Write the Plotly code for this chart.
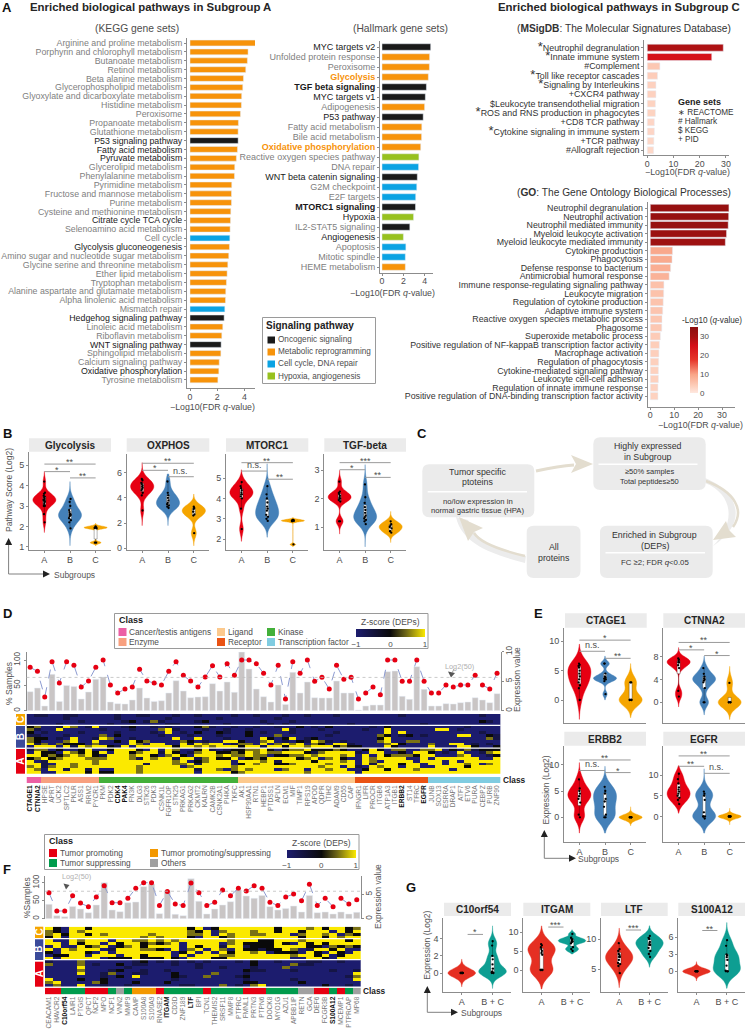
import re
import plotly.graph_objects as go

W, H = 746, 1032
FONT = "Liberation Sans"

# ------------------------------------------------------------------ DATA
KEGG_TERMS = ["Arginine and proline metabolism", "Porphyrin and chlorophyll metabolism", "Butanoate metabolism",
              "Retinol metabolism", "Beta alanine metabolism", "Glycerophospholipid metabolism",
              "Glyoxylate and dicarboxylate metabolism", "Histidine metabolism", "Peroxisome",
              "Propanoate metabolism", "Glutathione metabolism", "P53 signaling pathway", "Fatty acid metabolism",
              "Pyruvate metabolism", "Glycerolipid metabolism", "Phenylalanine metabolism", "Pyrimidine metabolism",
              "Fructose and mannose metabolism", "Purine metabolism", "Cysteine and methionine metabolism",
              "Citrate cycle TCA cycle", "Selenoamino acid metabolism", "Cell cycle", "Glycolysis gluconeogenesis",
              "Amino sugar and nucleotide sugar metabolism", "Glycine serine and threonine metabolism",
              "Ether lipid metabolism", "Tryptophan metabolism", "Alanine aspartate and glutamate metabolism",
              "Alpha linolenic acid metabolism", "Mismatch repair", "Hedgehog signaling pathway",
              "Linoleic acid metabolism", "Riboflavin metabolism", "WNT signaling pathway", "Sphingolipid metabolism",
              "Calcium signaling pathway", "Oxidative phosphorylation", "Tyrosine metabolism"]
KEGG_VALUES = [5.33, 4.27, 4.22, 4.10, 3.93, 3.88, 3.80, 3.78, 3.71, 3.56, 3.54, 3.54, 3.49, 3.41, 3.29, 3.27, 3.07,
               3.05, 3.05, 3.00, 2.98, 2.95, 2.93, 2.90, 2.85, 2.78, 2.73, 2.68, 2.63, 2.61, 2.56, 2.51, 2.41, 2.34,
               2.29, 2.27, 2.15, 2.12, 2.05]
KEGG_KIND = ["M", "M", "M", "M", "M", "M", "M", "M", "M", "M", "M", "O", "M", "M", "M", "M", "M", "M", "M", "M", "M",
             "M", "C", "M", "M", "M", "M", "M", "M", "M", "C", "O", "M", "M", "O", "M", "M", "M", "M"]
KEGG_DARK = ["P53 signaling pathway", "Fatty acid metabolism", "Pyruvate metabolism", "Citrate cycle TCA cycle",
             "Glycolysis gluconeogenesis", "Hedgehog signaling pathway", "WNT signaling pathway",
             "Oxidative phosphorylation"]

HALL_TERMS = ["MYC targets v2", "Unfolded protein response", "Peroxisome", "Glycolysis", "TGF beta signaling",
              "MYC targets v1", "Adipogenesis", "P53 pathway", "Fatty acid metabolism", "Bile acid metabolism",
              "Oxidative phosphorylation", "Reactive oxygen species pathway", "DNA repair",
              "WNT beta catenin signaling", "G2M checkpoint", "E2F targets", "MTORC1 signaling", "Hypoxia",
              "IL2-STAT5 signaling", "Angiogenesis", "Apoptosis", "Mitotic spindle", "HEME metabolism"]
HALL_VALUES = [4.55, 4.45, 4.43, 4.33, 4.15, 4.05, 3.98, 3.85, 3.72, 3.70, 3.62, 3.45, 3.42, 3.30, 3.25, 3.15, 3.13,
               2.95, 2.60, 2.00, 2.23, 2.18, 2.18]
HALL_KIND = ["O", "M", "M", "M", "O", "O", "M", "O", "M", "M", "M", "H", "C", "O", "C", "C", "O", "H", "O", "H", "C",
             "C", "M"]
HALL_BOLD = ["TGF beta signaling", "MTORC1 signaling"]
HALL_ORANGE = ["Glycolysis", "Oxidative phosphorylation"]
HALL_DARK = ["MYC targets v2", "MYC targets v1", "P53 pathway", "WNT beta catenin signaling", "Hypoxia", "Angiogenesis"]
KIND_COLOR = {"O": "#1a1a1a", "M": "#f7930a", "C": "#0ba3e3", "H": "#97c11f"}

STAR = '<span style="font-size:13px">*</span>'
MSIG_TERMS = [STAR + "Neutrophil degranulation", STAR + "Innate immune system", "#Complement",
              STAR + "Toll like receptor cascades", STAR + "Signaling by Interleukins", "+CXCR4 pathway",
              "$Leukocyte transendothelial migration", STAR + "ROS and RNS production in phagocytes",
              "+CD8 TCR pathway", STAR + "Cytokine signaling in immune system", "+TCR pathway",
              "#Allograft rejection"]
MSIG_VALUES = [29.0, 24.6, 4.8, 3.9, 3.3, 3.3, 3.1, 3.1, 2.7, 2.7, 2.5, 2.4]

GO_TERMS = ["Neutrophil degranulation", "Neutrophil activation", "Neutrophil mediated immunity",
            "Myeloid leukocyte activation", "Myeloid leukocyte mediated immunity", "Cytokine production",
            "Phagocytosis", "Defense response to bacterium", "Antimicrobial humoral response",
            "Immune response-regulating signaling pathway", "Leukocyte migration", "Regulation of cytokine production",
            "Adaptive immune system", "Reactive oxygen species metabolic process", "Phagosome",
            "Superoxide metabolic process", "Positive regulation of NF-kappaB transcription factor activity",
            "Macrophage activation", "Regulation of phagocytosis", "Cytokine-mediated signaling pathway",
            "Leukocyte cell-cell adhesion", "Regulation of innate immune response",
            "Positive regulation of DNA-binding transcription factor activity"]
GO_VALUES = [32.9, 32.8, 32.6, 31.9, 31.4, 9.3, 9.1, 8.5, 7.9, 5.7, 5.6, 5.4, 5.2, 4.9, 4.8, 4.2, 3.8, 3.6, 3.5, 3.4,
             3.4, 3.2, 3.2]

# Panel B violins
GLY_A = [2.2, 2.6, 3.0, 3.0, 3.1, 3.2, 3.2, 3.25, 3.3, 3.3, 3.35, 3.4, 3.45, 3.5, 3.6, 3.65, 4.2]
GLY_B = [1.9, 2.2, 2.3, 2.4, 2.5, 2.55, 2.6, 2.6, 2.7, 2.8, 3.0, 3.2, 3.35]
GLY_C = [1.2, 1.2, 1.9, 1.92, 1.95, 1.95, 2.0]
OXP_A = [3.0, 4.2, 4.4, 4.6, 4.7, 4.8, 4.9, 5.0, 5.1, 5.2, 5.4, 5.5]
OXP_B = [3.2, 3.3, 3.4, 3.5, 3.6, 3.8, 4.0, 4.2, 4.4, 5.3]
OXP_C = [1.2, 2.6, 2.7, 2.9, 3.1, 3.2, 3.3]
MTO_A = [2.5, 3.5, 4.0, 4.1, 4.2, 4.2, 4.3, 4.4, 4.5, 4.6, 4.8]
MTO_B = [2.9, 3.0, 3.1, 3.2, 3.4, 3.5, 3.6, 3.8, 4.0, 4.2, 4.6]
MTO_C = [1.75, 2.88, 2.9, 2.9, 2.95, 2.95]
TGF_A = [1.2, 1.2, 1.9, 1.95, 2.0, 2.0, 2.05, 2.1, 2.15, 2.2, 2.25, 2.6]
TGF_B = [1.1, 1.2, 1.25, 1.3, 1.35, 1.4, 1.5, 1.6, 1.7, 1.85, 2.05, 2.5]
TGF_C = [0.8, 0.85, 0.95, 1.0, 1.05, 1.1, 1.2]

# Panel E violins
CTA_A = [0, 2, 2.5, 3, 3.5, 4, 4.5, 5, 5.5, 5.8, 6, 6.2]
CTA_B = [1, 3.2, 3.5, 3.6, 3.7, 3.8, 4, 4.5, 6.2, 6.2]
CTA_C = [0, 0, 0, 0, 3, 3]
CTN_A = [1, 2, 6, 6.5, 7, 7, 7.2, 7.5, 7.7]
CTN_B = [0, 0, 2.5, 3.5, 3.8, 4, 4.2, 4.5, 5, 6]
CTN_C = [0, 0, 0, 0, 3.4]
ERB_A = [0, 0.5, 2.8, 3.5, 4, 4.5, 5, 5.5, 7.2]
ERB_B = [0, 0, 0.5, 2, 3, 3.5, 4.5, 5, 5.8]
ERB_C = [0, 0, 0, 0, 0, 0]
EGF_A = [3, 4, 4.5, 5, 5.5, 6, 6.5, 7, 8, 9, 10.3]
EGF_B = [-0.5, 0, 0, 0, 1, 4, 5, 5.5, 6]
EGF_C = [0, 0, 0, 0, 0, 0]

# Panel G violins
C10_A = [0, 0, 0, 0, 0, 0, 0]
C10_BC = [0, 0, 0, 0.1, 0.2, 0.5, 1, 1.6, 2, 3.2, 3.7]
ITG_A = [0, 0, 0, 0, 0, 4, 4.5, 5, 5.5, 6, 6.5, 6.8]
ITG_BC = [5, 5.5, 6, 7, 7.3, 7.5, 7.7, 8, 8.2, 8.5, 9.5]
LTF_A = [4.3, 5.5, 5.8, 6, 6.5, 7, 7, 7.3, 7.5, 8, 8.3, 9.3]
LTF_BC = [7, 7.5, 8, 8.5, 9, 9, 9.3, 9.5, 10, 10.2, 10.5]
S10_A = [0, 0, 0, 0, 0, 0, 0]
S10_BC = [0, 0, 0, 0.1, 1, 2, 2.5, 2.8, 3, 4.5, 5.5]

# Panel D
D_GENES = ["CTAGE1", "CTNNA2", "HPSE", "APRT", "UCK2", "SPTLC2", "PKLR", "ASS1", "RRM2", "PYCR1",
           "PKM", "PDK2", "CDK4", "PAK4", "FN3K", "DLG3", "STK26", "PDK3", "CSNK1L", "FGFR1OP", "STK25", "PRKAG1",
           "PRKAG2", "CKMT2", "KALRN", "CAMK2B", "CSNK2A1", "PI4KA", "TKFC",
           "AK1", "HSP90AA1", "RTN1", "HEBP1", "PTDSS1", "APLN", "ECM1", "MIF", "TIMP1", "RPS19", "APOD", "QDPR",
           "ITIH2", "ADAM9", "CD55", "CAP",
           "IFNGR1", "LIFR", "PROCR", "ITGB6", "ATP1A3", "ITGB1", "ERBB2", "ST14", "TFRC", "EGFR",
           "JUNB", "SOX13", "ESRRA", "DRAP1", "ATF7", "ETV6", "PURA", "CEBPZ", "PURB", "ZNF90"]
D_BOLD = ["CTAGE1", "CTNNA2", "CDK4", "PAK4", "ERBB2", "EGFR"]
D_CLASS = [0] * 2 + [1] * 8 + [2] * 19 + [3] * 16 + [4] * 10 + [5] * 10
D_CLASS_COLORS = ["#ec5fa4", "#f8a07f", "#43b03a", "#fcc98d", "#ea5314", "#80cce1"]
D_SAMPLES = [85.5, 77.6, 27, 96.7, 54.6, 96.7, 89.5, 46.7, 58.6, 85.5, 100, 50.7, 34.9, 42.8, 46.7, 81.6, 58.6, 54.6,
             50.7, 77.6, 96.7, 69.7, 58.6, 46.7, 66.4, 88.8, 66.4, 92.8, 69.7, 100, 100, 92.8, 73.7, 50.7, 89.5, 23,
             96.7, 73.7, 100, 57.9, 65.8, 42.8, 89.5, 61.8, 65.8, 23, 34.9, 46.7, 31.6, 100, 100, 57.9, 57.9, 100,
             57.9, 34.9, 34.9, 50.7, 46.7, 50.7, 50.7, 69.7, 50.7, 42.8, 73.7]
D_EXPR = [3.22, 3.84, 0.79, 6.16, 1.58, 4.29, 4.12, 1.98, 3.16, 5.31, 5.71, 1.47, 1.19, 1.13, 1.81, 3.84, 2.15, 1.58,
          1.69, 2.99, 5.08, 3.33, 2.2, 2.32, 2.37, 4.58, 3.33, 4.86, 3.11, 9.94, 7.06, 3.67, 2.37, 1.47, 4.35, 1.07,
          6.5, 2.99, 4.86, 2.2, 2.15, 2.15, 5.03, 2.99, 2.99, 0.11, 0.79, 0.96, 0.96, 6.61, 6.72, 2.43, 1.92, 7.46,
          3.62, 0.79, 0.79, 1.19, 1.13, 1.36, 1.47, 2.2, 1.81, 1.36, 2.88]
D_HEAT = ["01100 11000 00100 11000 10010 00010 01000 10010 00100 00000 01000 00000 00100",
          "00000 10000 00100 00001 00000 01000 00001 00000 00000 00000 00000 00000 00000",
          "00000 00100 00012 01310 00012 00000 00100 01000 00000 00000 00000 00000 00210",
          "00001 00000 01000 00001 10000 00100 00010 10000 00001 00000 00001 00000 00000",
          "23001 43014 00012 00101 00023 10010 01001 00201 02000 00102 00000 00000 10000",
          "31004 00000 10001 00034 10001 00100 10000 41000 10000 01004 00000 04401 00000",
          "20100 00100 00100 00104 01020 02100 20100 01000 00100 00004 04000 00000 00100",
          "11000 10000 30200 00010 00100 01000 20003 00000 01000 00032 01201 00004 40021",
          "32201 04001 43001 00000 40040 00100 00420 24012 00000 00024 00000 00000 00031",
          "32000 34004 00204 23000 03201 00442 00340 10214 31010 00034 00330 00000 00000",
          "41303 22203 00004 30440 04143 44013 30403 43403 20441 00003 42000 30044 01010",
          "04440 41434 42140 44444 24434 34442 44144 24434 44232 20004 20000 40004 42002",
          "13302 00240 02444 20404 30024 10122 33420 23342 22320 02420 33003 34021 31222",
          "04220 43242 40442 34414 20134 42232 43433 44421 34444 10440 02044 20104 00134",
          "44232 34342 14443 44203 42044 43433 43302 23343 44434 04042 33324 40003 40012",
          "23423 44433 34443 14344 14413 42240 23244 44234 03420 04344 44004 04444 44004",
          "40144 44443 44444 44444 34023 44404 44341 44442 44434 04304 44404 44040 44444",
          "44104 43443 44444 41444 33414 44402 43442 23444 43444 04144 42440 44044 34034",
          "34134 43444 44444 34444 40344 44434 44444 44444 34404 10434 40440 04444 24444",
          "43044 14414 00444 34444 44414 43034 34440 34404 43440 02442 44434 44404 44444",
          "44004 44424 22444 34444 44404 44423 44444 44434 44444 04444 44444 44444 44444"]

# Panel F
F_GENES = ["CEACAM1", "HAVCR2", "C10orf54", "LAIR1", "PTGIS", "QPCT", "NCF2", "MPO", "NCF1", "VNN2", "MMP9", "CAMP",
           "S100A8", "S100A9", "RNASE2", "ITGAM", "CD3D", "ZNF189", "LTF", "BPI", "TCN1", "THEMIS2", "SRSF11", "MMP8",
           "PTPRC", "FMNL1", "PRTN3", "PTPN6", "DOCK8", "MYO1G", "AZU1", "APBB1IP", "RETN", "GCA", "DEF6", "FCGR3B",
           "S100A12", "MCEMP1", "PTPRCAP", "MP68"]
F_BOLD = ["C10orf54", "ITGAM", "LTF", "S100A12"]
F_CLASS = [0, 0, 1, 1, 1, 0, 0, 0, 1, 3, 1, 2, 2, 2, 0, 1, 1, 1, 1, 1, 0, 1, 1, 1, 1, 0, 0, 0, 1, 1, 1, 1, 3, 3, 0, 0,
           1, 0, 1, 3]
F_CLASS_COLORS = ["#e60012", "#009b4c", "#f39800", "#a0a0a0"]
F_SAMPLES = [72.2, 21.3, 21.3, 63.9, 43.5, 33.3, 60.2, 91.7, 44.4, 44.4, 56.5, 84.3, 100, 100, 37, 75.9, 40.7, 37, 99,
             72.2, 37, 45.4, 79.6, 63.9, 84.3, 76.9, 91.7, 84.3, 45.4, 37, 60.2, 68.5, 50, 95.4, 37, 56.5, 33.3, 56.5,
             40.7, 52.8]
F_EXPR = [2.95, 0.62, 0.41, 2.53, 1.99, 1.23, 2.81, 7.4, 1.78, 1.44, 3.29, 3.42, 6.58, 7.12, 1.03, 5.75, 0.89, 0.62,
          8.22, 3.56, 0.96, 1.99, 2.81, 3.49, 5.89, 4.66, 4.18, 4.79, 2.47, 1.78, 2.12, 2.6, 1.37, 4.79, 1.23, 1.37,
          0.96, 1.37, 0.96, 1.3]
F_HEAT = ["42044 24444 44444 44424 02444 44442 44434 24423",
          "32043 44444 44444 44432 40344 43442 44244 40424",
          "34244 24344 44434 44433 40434 43344 40344 34032",
          "24044 44444 44343 44420 44234 44444 44244 24344",
          "40043 44404 43343 43444 44434 44224 44344 44424",
          "44042 44042 44232 34044 44034 22224 20424 24444",
          "04004 23402 34244 44042 44144 12224 44422 03232",
          "40434 44014 44332 04034 04304 22122 43014 42400",
          "20444 20404 44444 40240 40424 43402 22042 04204",
          "02244 04440 44244 40404 44334 44444 43442 40244",
          "40444 44022 24222 42044 42244 44444 40044 20444",
          "10003 00000 01201 01010 10001 02001 00011 00100",
          "30003 01002 01100 01001 00000 02000 03110 00000",
          "00004 00000 10000 00001 00100 01000 30000 00000",
          "00003 00012 00100 10000 00000 21100 01000 01001",
          "00004 00130 01100 02000 03000 10000 00000 00004",
          "00000 00102 04000 02100 30001 20000 00000 00013",
          "40002 00200 00000 01000 00000 10000 01000 00004",
          "34000 03200 02000 20000 00000 22000 00200 00000",
          "03004 00100 10000 00110 00301 03400 00000 20010"]
HEAT_LEVELS = [-1, -0.6, 0, 0.5, 1]
HEAT_SCALE = [[0, "#1c1c6e"], [0.5, "#0a0a0a"], [0.72, "#6b6418"], [1, "#fbe900"]]
LOG2_50 = 5.64

# ------------------------------------------------------------------ HELPERS
layout = dict(width=W, height=H, margin=dict(l=0, r=0, t=0, b=0), autosize=False, paper_bgcolor="white",
              plot_bgcolor="white", showlegend=False, font=dict(family=FONT, size=8.5, color="#4d4d4d"),
              violinmode="overlay", barmode="overlay", hovermode=False)
shapes, annos, traces = [], [], []
axn = [1]
BASE = dict(showgrid=False, zeroline=False, showline=False, ticks="", showticklabels=False, fixedrange=True,
            automargin=False)
AX = dict(showline=True, linecolor="#8c8c8c", linewidth=1, ticks="outside", ticklen=2, tickcolor="#8c8c8c",
          showticklabels=True, tickfont=dict(size=9, color="#4d4d4d"))


def axes(xl, xr, yt, yb, xrange, yrange, xkw=None, ykw=None):
    axn[0] += 1
    n = axn[0]
    layout[f"xaxis{n}"] = {**BASE, "domain": [xl / W, xr / W], "range": xrange, "anchor": f"y{n}", **(xkw or {})}
    layout[f"yaxis{n}"] = {**BASE, "domain": [1 - yb / H, 1 - yt / H], "range": yrange, "anchor": f"x{n}",
                           **(ykw or {})}
    return f"x{n}", f"y{n}"


def T(x, y, text, size=8.5, color="#4d4d4d", anchor="center", angle=0, bold=False):
    annos.append(dict(x=x / W, y=1 - y / H, xref="paper", yref="paper", text=f"<b>{text}</b>" if bold else text,
                      showarrow=False, xanchor=anchor, yanchor="middle", textangle=angle, borderpad=0, borderwidth=0,
                      font=dict(size=size, color=color, family=FONT)))


def rect(x0, y0, x1, y1, fill, line=None, lw=1):
    shapes.append(dict(type="rect", xref="paper", yref="paper", x0=x0 / W, x1=x1 / W, y0=1 - y0 / H, y1=1 - y1 / H,
                       fillcolor=fill, line=dict(color=line or fill, width=lw if line else 0)))


def seg(x0, y0, x1, y1, color, lw=1, dash="solid"):
    shapes.append(dict(type="line", xref="paper", yref="paper", x0=x0 / W, x1=x1 / W, y0=1 - y0 / H, y1=1 - y1 / H,
                       line=dict(color=color, width=lw, dash=dash)))


def path(s, fill=None, line=None, lw=0):
    out, k = [], 0
    for tok in s.split():
        if re.fullmatch(r"[A-Za-z]", tok):
            out.append(tok)
        else:
            v = float(tok)
            out.append(f"{v / W:.5f}" if k % 2 == 0 else f"{1 - v / H:.5f}")
            k += 1
    shapes.append(dict(type="path", xref="paper", yref="paper", path=" ".join(out), fillcolor=fill or "rgba(0,0,0,0)",
                       line=dict(color=line or "rgba(0,0,0,0)", width=lw)))


def rounded(x0, y0, x1, y1, r, fill):
    path(f"M {x0 + r} {y0} L {x1 - r} {y0} Q {x1} {y0} {x1} {y0 + r} L {x1} {y1 - r} Q {x1} {y1} {x1 - r} {y1} "
         f"L {x0 + r} {y1} Q {x0} {y1} {x0} {y1 - r} L {x0} {y0 + r} Q {x0} {y0} {x0 + r} {y0} Z", fill=fill)


def label_markup(term, bold=(), dark=(), orange=()):
    if term in orange:
        return f'<span style="color:#f7930a"><b>{term}</b></span>'
    if term in bold:
        return f'<span style="color:#1a1a1a"><b>{term}</b></span>'
    if term in dark:
        return f'<span style="color:#1a1a1a">{term}</span>'
    return term


def bar_panel(terms, values, xl, xr, yt, yb, zero, ppu, first, step, xticks, barh, marker, tick_text, label_color,
              size):
    xa, ya = axes(xl, xr, yt, yb, [(xl - zero) / ppu, (xr - zero) / ppu], [(yb - first) / step, (yt - first) / step],
                  {**AX, "tickvals": xticks, "ticklabelstandoff": -2, "tickfont": dict(size=8.8, color="#4d4d4d")},
                  {**AX, "tickvals": list(range(len(terms))), "ticktext": tick_text,
                   "tickfont": dict(size=size, color=label_color), "ticklen": 2})
    traces.append(go.Bar(x=values, y=list(range(len(terms))), orientation="h", width=barh, marker=marker, xaxis=xa,
                         yaxis=ya, cliponaxis=False))


def violin_panel(title, strip, xl, xr, yt, yb, tick_a, tick_b, yticks, series, colors, spans, bws, brackets, cats,
                 show_x=True):
    ppv = (tick_a[1] - tick_b[1]) / (tick_b[0] - tick_a[0])
    y_low = tick_a[0] - (yb - tick_a[1]) / ppv
    y_hi = tick_a[0] + (tick_a[1] - yt) / ppv
    n = len(series)
    xa, ya = axes(xl, xr, yt, yb, [-0.6, n - 0.4], [y_low, y_hi],
                  {**AX, "tickvals": list(range(n)) if show_x else [], "ticktext": cats if show_x else [],
                   "showticklabels": show_x, "ticks": "outside" if show_x else "", "ticklabelstandoff": -1},
                  {**AX, "tickvals": yticks})
    rect(strip[0], strip[1], strip[2], strip[3], "#ebebeb")
    T((strip[0] + strip[2]) / 2, (strip[1] + strip[3]) / 2 + 0.3, title, 10, "#262626", bold=True)
    for i, vals in enumerate(series):
        traces.append(go.Violin(y=vals, x0=i, width=0.9, orientation="v", fillcolor=colors[i],
                                line=dict(color=colors[i], width=0.4), spanmode="manual", span=spans[i],
                                bandwidth=bws[i], scalemode="width", points="all", pointpos=0, jitter=0.1,
                                marker=dict(size=2.3, color="black"),
                                box=dict(visible=True, width=0.13, fillcolor="white",
                                         line=dict(color="black", width=0.3)),
                                meanline=dict(visible=False), xaxis=xa, yaxis=ya, showlegend=False))
    for (b0, b1, by, lab) in brackets:
        shapes.append(dict(type="line", xref=xa, yref=ya, x0=b0, x1=b1, y0=by, y1=by,
                           line=dict(color="#9a9a9a", width=1)))
        annos.append(dict(x=(b0 + b1) / 2, y=by, xref=xa, yref=ya, text=lab, showarrow=False, yanchor="middle",
                          yshift=2 if "*" in lab else 6, font=dict(size=9, color="#4d4d4d", family=FONT)))


def combo_panel(xl, xr, top, bot, expr, samples, sample_px_per, expr_top, left_ticks, right_ticks):
    n = len(expr)
    xa, ya = axes(xl, xr, top, bot, [-0.5, n - 0.5], [0, expr_top], {},
                  {**AX, "side": "right", "tickvals": right_ticks, "tickangle": -90, "ticklabelstandoff": -2,
                   "tickfont": dict(size=8.3, color="#4d4d4d")})
    axn[0] += 1
    y2 = f"y{axn[0]}"
    layout[f"yaxis{axn[0]}"] = {**BASE, **AX, "overlaying": ya, "side": "left", "anchor": xa,
                                "domain": layout[f"yaxis{ya[1:]}"]["domain"], "range": [0, (bot - top) / sample_px_per],
                                "tickvals": left_ticks, "tickangle": -90, "tickfont": dict(size=8.3, color="#4d4d4d")}
    traces.append(go.Bar(x=list(range(n)), y=expr, width=0.8, marker=dict(color="#c9c5c5"), xaxis=xa, yaxis=ya))
    shapes.append(dict(type="line", xref="paper", yref=ya, x0=xl / W, x1=xr / W, y0=LOG2_50, y1=LOG2_50,
                       line=dict(color="#bdbdbd", width=0.8, dash="dot")))
    traces.append(go.Scatter(x=list(range(n)), y=samples, mode="lines+markers", xaxis=xa, yaxis=y2, cliponaxis=False,
                             line=dict(color="#7f8fcc", width=0.9, dash="dash"),
                             marker=dict(color="#e60012", size=5)))


def heat_panel(xl, xr, top, bot, rows, splits, cbar):
    z = [[HEAT_LEVELS[int(c)] for c in r.replace(" ", "")] for r in rows]
    xa, ya = axes(xl, xr, top, bot, [-0.5, len(z[0]) - 0.5], [len(z) - 0.5, -0.5])
    traces.append(go.Heatmap(z=z, zmin=-1, zmax=1, colorscale=HEAT_SCALE, xaxis=xa, yaxis=ya, showscale=True,
                             colorbar=cbar))
    for s in splits:
        shapes.append(dict(type="line", xref=xa, yref=ya, x0=-0.5, x1=len(z[0]) - 0.5, y0=s, y1=s,
                           line=dict(color="white", width=1.3)))


def hbar(x, y, length):
    return dict(orientation="h", x=x / W, y=1 - y / H, xanchor="left", yanchor="top", len=length / W,
                lenmode="fraction", thickness=8, thicknessmode="pixels", xpad=0, ypad=0, outlinewidth=0,
                tickvals=[-1, 0, 1], ticktext=["\u22121", "0", "1"], ticks="", tickfont=dict(size=8, color="#4d4d4d"))


def class_strip(xl, xr, top, bot, classes, colors, genes, bold, size):
    n = len(colors)
    scale = []
    for i, c in enumerate(colors):
        scale += [[i / n, c], [(i + 1) / n, c]]
    ticktext = [f'<span style="color:#111"><b>{g}</b></span>' if g in bold else g for g in genes]
    xa, ya = axes(xl, xr, top, bot, [-0.5, len(genes) - 0.5], [-0.5, 0.5],
                  {"tickmode": "array", "tickvals": list(range(len(genes))), "ticktext": ticktext, "tickangle": -90,
                   "showticklabels": True, "tickfont": dict(size=size, color="#777777")})
    traces.append(go.Heatmap(z=[classes], zmin=-0.5, zmax=n - 0.5, colorscale=scale, showscale=False, xaxis=xa,
                             yaxis=ya))


def side_strip(x0, x1, spans):
    for (y0, y1, col, lab) in spans:
        rect(x0, y0, x1, y1, col)
        T((x0 + x1) / 2, (y0 + y1) / 2, lab, 10, "white", angle=-90, bold=True)


def tri_up(x, tip, base, hw=3.5):
    path(f"M {x} {tip} L {x - hw} {base} L {x + hw} {base} Z", fill="#222222")


def tri_right(tip, y, base, hw=3.5):
    path(f"M {tip} {y} L {base} {y - hw} L {base} {y + hw} Z", fill="#222222")


def subgroup_arrow(x, y_tip, y_corner, x_tip, label_x):
    seg(x, y_tip + 5, x, y_corner, "#808080", 1)
    seg(x, y_corner, x_tip - 5, y_corner, "#808080", 1)
    tri_up(x, y_tip, y_tip + 7)
    tri_right(x_tip, y_corner, x_tip - 7)
    T(label_x, y_corner + 0.5, "Subgroups", 8.5, "#555555", anchor="left")


# ------------------------------------------------------------------ PANEL A
T(2, 7, "A", 13, "#111111", anchor="left", bold=True)
T(30, 7, "Enriched biological pathways in Subgroup A", 11.4, "#262626", anchor="left", bold=True)
T(137, 28, "(KEGG gene sets)", 10.3, "#4d4d4d")
T(400, 28, "(Hallmark gene sets)", 10.3, "#4d4d4d")
bar_panel(KEGG_TERMS, KEGG_VALUES, 187, 255, 37.7, 388.3, 190, 13.6, 43, 8.868, [0, 2, 4], 0.65,
          dict(color=[KIND_COLOR[k] for k in KEGG_KIND]),
          [label_markup(t, dark=KEGG_DARK) for t in KEGG_TERMS], "#808080", 8.8)
bar_panel(HALL_TERMS, HALL_VALUES, 380, 432.7, 41, 272.7, 382, 10.7, 47, 10, [0, 2, 4], 0.65,
          dict(color=[KIND_COLOR[k] for k in HALL_KIND]),
          [label_markup(t, bold=HALL_BOLD, dark=HALL_DARK, orange=HALL_ORANGE) for t in HALL_TERMS], "#808080", 9)
T(212, 406.7, "\u2212Log10(FDR <i>q</i>-value)", 8.8)
T(392.5, 293, "\u2212Log10(FDR <i>q</i>-value)", 8.8)

rect(262.5, 317.5, 375.5, 383.5, "white", "#9a9a9a", 1)
T(266, 325, "Signaling pathway", 10, "#222222", anchor="left", bold=True)
for (yy, col, lab) in [(340, "#1a1a1a", "Oncogenic signaling"), (352, "#f7930a", "Metabolic reprogramming"),
                       (364, "#0ba3e3", "Cell cycle, DNA repair"), (376, "#97c11f", "Hypoxia, angiogenesis")]:
    rect(267.5, yy - 3.5, 275, yy + 3.5, col)
    T(277.5, yy, lab, 8.2, "#4d4d4d", anchor="left")

# ------------------------------------------------------------------ ENRICHED IN SUBGROUP C
T(498, 7, "Enriched biological pathways in Subgroup C", 11.4, "#262626", anchor="left", bold=True)
T(623.7, 28, "(<b>MSigDB</b>: The Molecular Signatures Database)", 10.2, "#333333")
T(624, 192, "(<b>GO</b>: The Gene Ontology Biological Processes)", 10.2, "#333333")
GO_SCALE = [[0, "#fee8e0"], [0.1, "#fdd0bd"], [0.28, "#f9a588"], [0.5, "#e6362a"], [0.72, "#d40f18"], [0.85, "#a61212"],
            [1, "#8b0f0f"]]
bar_panel(MSIG_TERMS, MSIG_VALUES, 644.3, 729, 40, 155, 647.3, 2.62, 47.7, 9.32, [0, 10, 20, 30], 0.75,
          dict(color=MSIG_VALUES, colorscale=GO_SCALE, cmin=0, cmax=35), MSIG_TERMS, "#333333", 8.9)
bar_panel(GO_TERMS, GO_VALUES, 647.7, 735, 201.7, 406.7, 650.3, 2.39, 208, 8.55, [0, 10, 20, 30], 0.85,
          dict(color=GO_VALUES, colorscale=GO_SCALE, cmin=0, cmax=35, showscale=True,
               colorbar=dict(x=690 / W, xanchor="left", y=1 - 393 / H, yanchor="bottom", len=66 / H,
                             lenmode="fraction", thickness=7.5, thicknessmode="pixels", xpad=0, ypad=0, outlinewidth=0,
                             tickvals=[0, 10, 20, 30], ticks="", tickfont=dict(size=8, color="#4d4d4d"))),
          GO_TERMS, "#333333", 8.8)
T(687.5, 172.5, "\u2212Log10(FDR <i>q</i>-value)", 8.8)
T(700.8, 425, "\u2212Log10(FDR <i>q</i>-value)", 8.8)
T(711.7, 320, "-Log10 (<i>q</i>-value)", 8.2, "#333333")
T(678, 102, "Gene sets", 9, "#222222", anchor="left", bold=True)
for yy, lab in [(113, "\u2217 REACTOME"), (122, "# Hallmark"), (130.5, "$ KEGG"), (139.5, "+ PID")]:
    T(678, yy, lab, 8.2, "#333333", anchor="left")

# ------------------------------------------------------------------ PANEL B
RED, BLUE, ORANGE = "#e60012", "#4480b8", "#f5a500"
ABC = ["A", "B", "C"]
T(3, 433, "B", 13, "#111111", anchor="left", bold=True)
violin_panel("Glycolysis", (29, 438.3, 111, 451.7), 29, 111, 452, 550, (1, 546.7), (5, 465.3), [1, 2, 3, 4, 5],
             [GLY_A, GLY_B, GLY_C], [RED, BLUE, ORANGE], [[1.7, 4.7], [1.05, 4.2], [1.05, 2.15]], [0.2, 0.27, 0.055],
             [(0, 2, 5.06, "**"), (0, 1, 4.69, "*"), (1, 2, 4.38, "**")], ABC)
violin_panel("OXPHOS", (126.7, 438.3, 209.3, 451.7), 126.7, 209.3, 454, 550, (0, 548.3), (6, 472.7), [0, 2, 4, 6],
             [OXP_A, OXP_B, OXP_C], [RED, BLUE, ORANGE], [[1.8, 6.8], [1.8, 5.9], [0.2, 4.3]], [0.4, 0.42, 0.35],
             [(0, 2, 6.75, "**"), (0, 1, 6.19, "*"), (1, 2, 5.68, "n.s.")], ABC)
violin_panel("MTORC1", (226, 438.3, 308.3, 451.7), 226, 308.3, 454, 550, (2, 539.3), (5, 478), [2, 3, 4, 5],
             [MTO_A, MTO_B, MTO_C], [RED, BLUE, ORANGE], [[1.9, 5.4], [2.1, 5.7], [1.65, 3.05]], [0.25, 0.3, 0.045],
             [(0, 2, 5.75, "**"), (0, 1, 5.34, "n.s."), (1, 2, 4.94, "**")], ABC)
violin_panel("TGF-beta", (324.3, 438.3, 406, 451.7), 324.3, 406, 454, 550, (1, 527), (3, 470.3), [1, 2, 3],
             [TGF_A, TGF_B, TGF_C], [RED, BLUE, ORANGE], [[0.75, 3.0], [0.3, 3.2], [0.45, 1.55]], [0.13, 0.22, 0.11],
             [(0, 2, 3.27, "***"), (0, 1, 3.02, "*"), (1, 2, 2.75, "**")], ABC)
T(9, 490, "Pathway Score (Log2)", 8.5, "#555555", angle=-90)
subgroup_arrow(8.6, 538, 574, 50, 54)

# ------------------------------------------------------------------ PANEL C (flow diagram)
T(417, 433, "C", 13, "#111111", anchor="left", bold=True)
path("M 705 478 C 735 490 752 520 713 546 C 735 525 735 495 705 483 Z", fill="#ececec")
path("M 456 517 C 462 545 495 555 525 563 L 526 556 C 495 550 475 540 468 520 Z", fill="#ececec")
BEIGE = "#e3ddcf"
path("M 536 471 C 550 468 560 466 574 465", line=BEIGE, lw=3)
path("M 593 464 L 571 455 L 576 464 L 571 473 Z", fill=BEIGE)
path("M 706 481 C 735 492 745 510 733 527", line=BEIGE, lw=2.5)
path("M 713 540 L 726 521 L 729 530 L 736 537 Z", fill=BEIGE)
path("M 525 556 C 500 550 480 543 474 533", line=BEIGE, lw=2.5)
path("M 459 517 L 483 528 L 474 532 L 468 541 Z", fill=BEIGE)
for (x0, y0, x1, y1) in [(593.3, 437.3, 705.7, 490), (422.3, 464.3, 534.3, 517.3), (526.7, 525.7, 580.5, 578),
                         (600, 525.7, 712.7, 578)]:
    rounded(x0, y0, x1, y1, 7, "#ebebeb")
seg(598.5, 464.3, 697.5, 464.3, "white", 1.5)
seg(427.7, 491.7, 527, 491.7, "white", 1.5)
seg(605.5, 552.7, 705, 552.7, "white", 1.5)
T(648, 446, "Highly expressed", 8.8, "#333333")
T(648, 456.5, "in Subgroup", 8.8, "#333333")
T(649, 472, "\u226550% samples", 7.5, "#333333")
T(649.5, 481.5, "Total peptides\u226550", 7.5, "#333333")
T(477.5, 471.5, "Tumor specific", 8.8, "#333333")
T(477.5, 482, "ptoteins", 8.8, "#333333")
T(477.5, 501, "no/low expression in", 7.7, "#333333")
T(477.5, 510, "normal gastric tissue (HPA)", 7.7, "#333333")
T(553.5, 547, "All", 8.8, "#333333")
T(553.5, 557.5, "proteins", 8.8, "#333333")
T(654.5, 535, "Enriched in Subgroup", 8.8, "#333333")
T(654.5, 545.5, "(DEPs)", 8.8, "#333333")
T(654.5, 562.5, "FC \u22652; FDR <i>q</i>&lt;0.05", 7.8, "#333333")

# ------------------------------------------------------------------ PANEL D
T(3, 613, "D", 13, "#111111", anchor="left", bold=True)
rect(114.5, 613.5, 428, 648.5, "white", "#9a9a9a", 1)
T(119, 619.5, "Class", 9, "#222222", anchor="left", bold=True)
for (sx, yy, col, lab) in [(118.5, 632, "#ec5fa4", "Cancer/testis antigens"), (118.5, 642, "#f8a07f", "Enzyme"),
                           (217, 632, "#fcc98d", "Ligand"), (217, 642, "#ea5314", "Receptor"),
                           (267, 632, "#43b03a", "Kinase"), (267, 642, "#80cce1", "Transcription factor")]:
    rect(sx, yy - 4, sx + 8, yy + 4, col)
    T(sx + 10.5, yy, lab, 8.3, "#4d4d4d", anchor="left")
T(390, 622, "Z-score (DEPs)", 8.5, "#4d4d4d")
combo_panel(26.5, 500.7, 651.7, 710.7, D_EXPR, D_SAMPLES, 0.507, 10, [0, 50, 100], [0, 5, 10])
T(9, 684, "% Samples", 8.5, "#555555", angle=-90)
T(517, 680, "Expression value", 8.5, "#555555", angle=-90)
T(459, 666, "Log2(50)", 7.3, "#b0b0b0")
path("M 451 677.5 L 448 671.5 L 455 673 Z", fill="#555555")
seg(454, 669, 452, 673, "#888888", 0.8)
heat_panel(26.5, 500.7, 714, 773.7, D_HEAT, [3.5, 11.5], hbar(356, 629, 69))
side_strip(16, 25, [(714, 725, "#f5a500", "C"), (726, 747.7, "#3b4a9a", "B"), (749, 773.7, "#e60012", "A")])
class_strip(26.5, 500.7, 777, 783, D_CLASS, D_CLASS_COLORS, D_GENES, D_BOLD, 6.6)
T(503, 780, "Class", 8.3, "#222222", anchor="left", bold=True)

# ------------------------------------------------------------------ PANEL E
T(534, 613, "E", 13, "#111111", anchor="left", bold=True)
violin_panel("CTAGE1", (565, 613.3, 646.7, 627.7), 564, 646, 628, 723.3, (0, 700), (10, 641.3), [0, 5, 10],
             [CTA_A, CTA_B, CTA_C], [RED, BLUE, ORANGE], [[-3.3, 9.5], [0, 7.5], [-3, 6.2]], [1.3, 0.45, 1.05],
             [(0, 2, 10.2, "*"), (0, 1, 8.3, "n.s."), (1, 2, 7.1, "**")], ABC, show_x=False)
violin_panel("CTNNA2", (663.3, 613.3, 745, 627.7), 663.3, 745, 628, 723.3, (0, 702.3), (8, 656.7), [0, 4, 8],
             [CTN_A, CTN_B, CTN_C], [RED, BLUE, ORANGE], [[-0.8, 9.6], [-2.2, 8.1], [-3, 6.3]], [0.65, 0.8, 1.0],
             [(0, 2, 10.5, "**"), (0, 1, 9.2, "*"), (1, 2, 8.2, "*")], ABC, show_x=False)
violin_panel("ERBB2", (564.3, 731.7, 646, 745.7), 564, 646, 746, 841.7, (0, 817.3), (10, 764.7), [0, 5, 10],
             [ERB_A, ERB_B, ERB_C], [RED, BLUE, ORANGE], [[-3, 10.4], [-3, 9.7], [-1.6, 2]], [1.1, 1.3, 0.5],
             [(0, 2, 10.9, "**"), (0, 1, 8.9, "n.s."), (1, 2, 8.5, "*")], ABC)
violin_panel("EGFR", (663.3, 731.7, 745, 745.7), 663.3, 745, 746, 841.7, (0, 816.5), (10, 775), [0, 5, 10],
             [EGF_A, EGF_B, EGF_C], [RED, BLUE, ORANGE], [[0.8, 12.2], [-4, 11.5], [-2, 2]], [1.0, 1.5, 0.5],
             [(0, 2, 14.6, "**"), (0, 1, 12.1, "**"), (1, 2, 10.4, "n.s.")], ABC)
T(545.5, 790, "Expression (Log2)", 8.5, "#555555", angle=-90)
subgroup_arrow(544.3, 830, 858.3, 576, 578)

# ------------------------------------------------------------------ PANEL F
T(3, 869, "F", 13, "#111111", anchor="left", bold=True)
rect(44.5, 834.5, 359, 869.5, "white", "#9a9a9a", 1)
T(49, 840.5, "Class", 9, "#222222", anchor="left", bold=True)
for (sx, yy, col, lab) in [(49, 853, "#e60012", "Tumor promoting"), (49, 863, "#009b4c", "Tumor suppressing"),
                           (150, 853, "#f39800", "Tumor promoting/suppressing"), (150, 863, "#a0a0a0", "Others")]:
    rect(sx, yy - 4, sx + 8, yy + 4, col)
    T(sx + 10.5, yy, lab, 8.3, "#4d4d4d", anchor="left")
T(321, 843, "Z-score (DEPs)", 8.5, "#4d4d4d")
combo_panel(45, 360.7, 876, 918.7, F_EXPR, F_SAMPLES, 0.36, 8.77, [0, 50, 100], [0, 5])
T(27, 898, "%Samples", 8.5, "#555555", angle=-90)
T(378, 897, "Expression value", 8.5, "#555555", angle=-90)
T(76, 876.5, "Log2(50)", 7.3, "#b0b0b0")
path("M 66 889.5 L 63.5 883.5 L 69.5 885 Z", fill="#555555")
heat_panel(45, 360.7, 926.7, 986.7, F_HEAT, [3.5, 10.5], hbar(286.7, 850, 69))
side_strip(35, 43.3, [(926.7, 938, "#f5a500", "C"), (939.3, 960, "#3b4a9a", "B"), (961.7, 986.7, "#e60012", "A")])
class_strip(45, 360.7, 987.7, 994.3, F_CLASS, F_CLASS_COLORS, F_GENES, F_BOLD, 6.6)
T(362.5, 991, "Class", 8.3, "#222222", anchor="left", bold=True)

# ------------------------------------------------------------------ PANEL G
RED2, TEAL = "#e52f22", "#0e9e92"
AB = ["A", "B + C"]
T(406, 887, "G", 13, "#111111", anchor="left", bold=True)
violin_panel("C10orf54", (444, 902.7, 511, 916), 443.3, 511, 918, 991.7, (0, 973), (4, 938.7), [0, 2, 4],
             [C10_A, C10_BC], [RED2, TEAL], [[-1.6, 1.6], [-1.8, 5.5]], [0.5, 0.55],
             [(0.19, 0.69, 4.5, "*")], AB)
violin_panel("ITGAM", (523.3, 902.7, 590.3, 916), 523.3, 590.3, 918, 991.7, (0, 970), (10, 932), [0, 5, 10],
             [ITG_A, ITG_BC], [RED2, TEAL], [[-5, 11.6], [4.2, 10.6]], [1.9, 0.42],
             [(0.22, 0.72, 11.3, "***")], AB)
violin_panel("LTF", (601, 902.7, 667.7, 916), 601, 667.7, 918, 991.7, (5, 969), (10, 939), [5, 10],
             [LTF_A, LTF_BC], [RED2, TEAL], [[1.9, 11.8], [5.3, 12.2]], [1.0, 0.7],
             [(0.22, 0.72, 11.5, "***")], AB)
violin_panel("S100A12", (678.3, 902.7, 745, 916), 678.3, 745, 918, 991.7, (0, 971.3), (6, 937.3), [0, 3, 6],
             [S10_A, S10_BC], [RED2, TEAL], [[-1.7, 1.7], [-3, 8.6]], [0.5, 1.1],
             [(0.19, 0.69, 7.2, "**")], AB)
T(426.7, 945, "Expression (Log2)", 8.5, "#555555", angle=-90)
subgroup_arrow(427.3, 986, 1012.3, 458, 461)

layout["shapes"] = shapes
layout["annotations"] = annos
fig = go.Figure(data=traces, layout=layout)
fig.write_html("out.html", config={"displayModeBar": False},
               post_script="document.body.style.margin='0';document.documentElement.style.overflow='hidden';")
